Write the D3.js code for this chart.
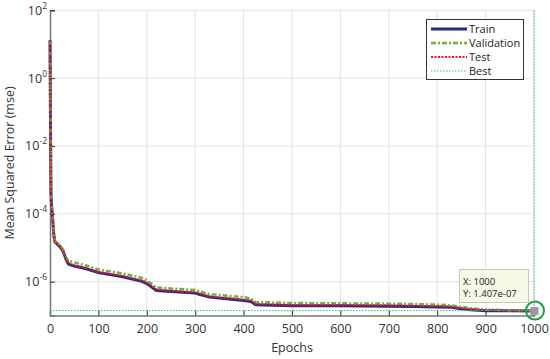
<!DOCTYPE html>
<html><head><meta charset="utf-8">
<script src="https://cdn.jsdelivr.net/npm/d3@7"></script>
<style>body{margin:0;background:#fff}svg{display:block}text{font-family:"Open Sans","Noto Sans",sans-serif}</style>
</head><body><svg id="c" width="550" height="359"></svg>
<script>
const epochs = [0,1,2,3,5,8,10,20,27,33,38,50,75,100,150,190,200,210,220,250,300,310,330,400,415,425,500,600,700,750,800,830,850,870,900,950,1000];
const train = [13,0.05,4e-4,2e-4,9e-5,2.3e-5,1.5e-5,1.1e-5,8e-6,4.6e-6,3.3e-6,2.9e-6,2.4e-6,1.85e-6,1.4e-6,1.02e-6,8.8e-7,7e-7,5.5e-7,5.1e-7,4.6e-7,4.2e-7,3.5e-7,2.8e-7,2.6e-7,2.1e-7,1.95e-7,1.95e-7,1.9e-7,1.85e-7,1.8e-7,1.75e-7,1.6e-7,1.48e-7,1.4e-7,1.38e-7,1.36e-7];
const validation = [13,0.05,4.2e-4,2.1e-4,1e-4,2.5e-5,1.6e-5,1.2e-5,8.8e-6,5.2e-6,4.2e-6,3.7e-6,3.0e-6,2.3e-6,1.75e-6,1.3e-6,1.1e-6,8.5e-7,6.8e-7,6.3e-7,5.7e-7,5.1e-7,4.3e-7,3.5e-7,3.2e-7,2.5e-7,2.35e-7,2.3e-7,2.25e-7,2.2e-7,2.1e-7,2.0e-7,1.8e-7,1.65e-7,1.5e-7,1.45e-7,1.407e-7];
const test = [13,0.05,4e-4,2e-4,9.5e-5,2.4e-5,1.55e-5,1.15e-5,8.3e-6,4.8e-6,3.5e-6,3.05e-6,2.5e-6,1.95e-6,1.48e-6,1.08e-6,9.3e-7,7.4e-7,5.8e-7,5.4e-7,4.9e-7,4.45e-7,3.7e-7,2.95e-7,2.75e-7,2.2e-7,2.05e-7,2.05e-7,2.0e-7,1.95e-7,1.9e-7,1.83e-7,1.68e-7,1.55e-7,1.45e-7,1.42e-7,1.4e-7];
const bestEpoch = 1000, bestValue = 1.407e-7;
const xTicks = [0,100,200,300,400,500,600,700,800,900,1000];
const yTickExps = [-6,-4,-2,0,2];
const legendLabels = ["Train","Validation","Test","Best"];

const svg = d3.select("#c");
const L=50, R=534, T=10.3, B=315.6;
const x = d3.scaleLinear().domain([0,1000]).range([L,R]);
const y = d3.scaleLog().domain([1e-7,1e2]).range([B,T]);

// grid
const g = svg.append("g");
g.selectAll(".gx").data(xTicks.filter(d=>d>0)).enter().append("line")
 .attr("x1",d=>x(d)).attr("x2",d=>x(d)).attr("y1",T).attr("y2",B).attr("stroke","#e3e3e3").attr("stroke-width",1);
g.selectAll(".gy").data(yTickExps).enter().append("line")
 .attr("x1",L).attr("x2",R).attr("y1",d=>y(Math.pow(10,d))).attr("y2",d=>y(Math.pow(10,d))).attr("stroke","#e3e3e3").attr("stroke-width",1);

// axes
const xa = svg.append("g").attr("transform",`translate(0,${B})`)
 .call(d3.axisBottom(x).tickValues(xTicks).tickSize(-5).tickPadding(9).tickFormat(d3.format("d")));
xa.select(".domain").attr("stroke","#777").attr("stroke-width",1.5);
xa.selectAll(".tick line").attr("stroke","#333");
xa.selectAll("text").attr("font-size",12.5).attr("fill","#333");

const ya = svg.append("g").attr("transform",`translate(${L},0)`)
 .call(d3.axisLeft(y).tickValues(yTickExps.map(e=>Math.pow(10,e))).tickSize(-5).tickPadding(6).tickFormat(""));
ya.select(".domain").attr("stroke","#777").attr("stroke-width",1.5);
ya.selectAll(".tick line").attr("stroke","#333");
ya.selectAll(".tick").each(function(d){
  const e = Math.round(Math.log10(d));
  const t = d3.select(this).append("text").attr("x",-3).attr("y",4).attr("text-anchor","end").attr("fill","#333").attr("font-size",12.5);
  t.append("tspan").text("10");
  t.append("tspan").attr("dy",-6).attr("font-size",8.5).text(e);
});

// lines
const line = d3.line().x((d,i)=>x(epochs[i])).y(d=>y(d));
svg.append("path").datum(train).attr("d",line).attr("fill","none").attr("stroke","#1f2d8c").attr("stroke-width",3);
svg.append("path").datum(validation).attr("d",line).attr("fill","none").attr("stroke","#72b043").attr("stroke-width",2.5).attr("stroke-dasharray","5,2,2,2");
svg.append("path").datum(test).attr("d",line).attr("fill","none").attr("stroke","#f0141e").attr("stroke-width",2).attr("stroke-dasharray","2,1.5");

// best lines
svg.append("line").attr("x1",L).attr("x2",R).attr("y1",y(bestValue)).attr("y2",y(bestValue)).attr("stroke","#22c47a").attr("stroke-width",1).attr("stroke-dasharray","1.5,1.5");
svg.append("line").attr("x1",x(bestEpoch)).attr("x2",x(bestEpoch)).attr("y1",T).attr("y2",B).attr("stroke","#22c47a").attr("stroke-width",1).attr("stroke-dasharray","1.5,1.5");

// marker + datatip
svg.append("rect").attr("x",x(bestEpoch)-3.5).attr("y",y(bestValue)-3.5).attr("width",8).attr("height",8).attr("fill","#9a9a9a");
svg.append("circle").attr("cx",x(bestEpoch)+1).attr("cy",y(bestValue)).attr("r",9).attr("fill","none").attr("stroke","#1a9e3c").attr("stroke-width",2);
svg.append("rect").attr("x",459.5).attr("y",269.5).attr("width",69).attr("height",33).attr("fill","#f8f8e6").attr("stroke","#c8c8b8");
svg.append("text").attr("x",463).attr("y",285).attr("font-size",9.5).attr("fill","#222").text("X: "+bestEpoch);
svg.append("text").attr("x",463).attr("y",297).attr("font-size",9.5).attr("fill","#222").text("Y: 1.407e-07");

// labels
svg.append("text").attr("x",292).attr("y",352).attr("text-anchor","middle").attr("font-size",12.5).attr("fill","#333").text("Epochs");
svg.append("text").attr("transform","translate(14,163) rotate(-90)").attr("text-anchor","middle").attr("font-size",12.5).attr("fill","#333").text("Mean Squared Error  (mse)");

// legend
const lg = svg.append("g");
lg.append("rect").attr("x",426.5).attr("y",19.5).attr("width",97).attr("height",60).attr("fill","#fff").attr("stroke","#333");
const lstyles = [
 {c:"#1f2d8c",w:3,d:null},{c:"#72b043",w:2.5,d:"5,2,2,2"},{c:"#f0141e",w:2,d:"2,1.5"},{c:"#22c47a",w:1,d:"1.5,1.5"}];
legendLabels.forEach((lab,i)=>{
  const yy = 29+i*14;
  const s = lstyles[i];
  lg.append("line").attr("x1",431).attr("x2",467).attr("y1",yy).attr("y2",yy).attr("stroke",s.c).attr("stroke-width",s.w).attr("stroke-dasharray",s.d);
  lg.append("text").attr("x",469).attr("y",yy+4).attr("font-size",11).attr("fill","#222").text(lab);
});
</script></body></html>
